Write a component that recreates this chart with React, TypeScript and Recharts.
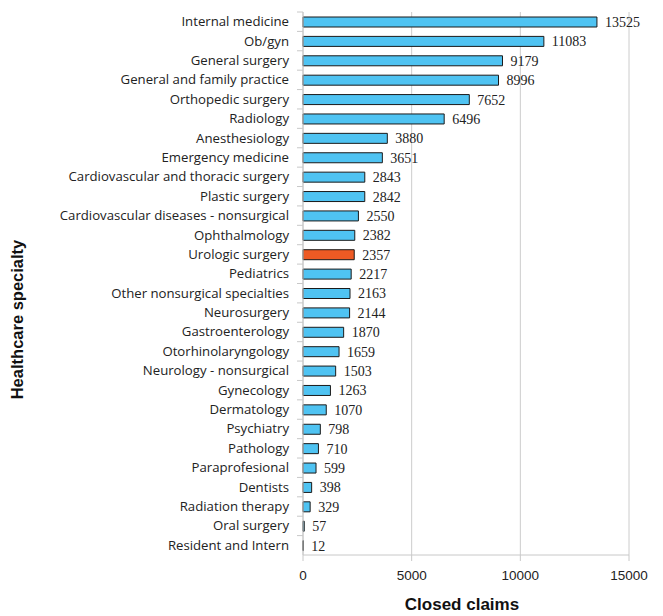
import { Bar, BarChart, CartesianGrid, Cell, LabelList, XAxis, YAxis } from "recharts";

const specialties = [
  "Internal medicine",
  "Ob/gyn",
  "General surgery",
  "General and family practice",
  "Orthopedic surgery",
  "Radiology",
  "Anesthesiology",
  "Emergency medicine",
  "Cardiovascular and thoracic surgery",
  "Plastic surgery",
  "Cardiovascular diseases - nonsurgical",
  "Ophthalmology",
  "Urologic surgery",
  "Pediatrics",
  "Other nonsurgical specialties",
  "Neurosurgery",
  "Gastroenterology",
  "Otorhinolaryngology",
  "Neurology - nonsurgical",
  "Gynecology",
  "Dermatology",
  "Psychiatry",
  "Pathology",
  "Paraprofesional",
  "Dentists",
  "Radiation therapy",
  "Oral surgery",
  "Resident and Intern",
];

const claims = [
  13525, 11083, 9179, 8996, 7652, 6496, 3880, 3651, 2843, 2842, 2550, 2382, 2357, 2217, 2163, 2144, 1870, 1659,
  1503, 1263, 1070, 798, 710, 599, 398, 329, 57, 12,
];

const xTicks = [0, 5000, 10000, 15000];
const highlighted = "Urologic surgery";

const rows = specialties.map((name, i) => ({ name, claims: claims[i] }));

const BAND = 543 / specialties.length;

function SpecialtyTick(props: any) {
  const { x, y, payload } = props;
  return (
    <g>
      <line x1={x + 2} x2={x + 8} y1={y - BAND / 2} y2={y - BAND / 2} stroke="#c8c8c8" />
      <text
        x={x - 6}
        y={y}
        dy={4.5}
        textAnchor="end"
        fontFamily="'Open Sans', sans-serif"
        fontSize={13.2}
        fill="#222"
      >
        {payload.value}
      </text>
    </g>
  );
}

export default function App() {
  return (
    <div style={{ margin: "-8px 0 0 -8px", width: 663, height: 616, background: "#fff", position: "relative" }}>
      <BarChart
        width={663}
        height={616}
        data={rows}
        layout="vertical"
        margin={{ top: 12, right: 34, bottom: 0, left: 0 }}
        barCategoryGap={0}
      >
        <CartesianGrid horizontal={false} stroke="#cccccc" />
        <XAxis
          type="number"
          domain={[0, 15000]}
          ticks={xTicks}
          axisLine={{ stroke: "#c8c8c8" }}
          tickLine={{ stroke: "#c8c8c8" }}
          tickSize={6}
          height={61}
          tick={{ fontFamily: "'Liberation Sans', Arial, sans-serif", fontSize: 13.5, fill: "#222", dy: 7 }}
          label={{
            value: "Closed claims",
            position: "insideBottom",
            offset: 6,
            dx: -4,
            style: { fontFamily: "'Liberation Sans', Arial, sans-serif", fontSize: 17, fontWeight: "bold", fill: "#111" },
          }}
        />
        <YAxis
          type="category"
          dataKey="name"
          width={303}
          axisLine={{ stroke: "#c8c8c8" }}
          tickLine={false}
          interval={0}
          tick={<SpecialtyTick />}
          label={{
            value: "Healthcare specialty",
            angle: -90,
            position: "insideLeft",
            offset: 17,
            dy: 36,
            style: {
              fontFamily: "'Liberation Sans', Arial, sans-serif",
              fontSize: 16.5,
              fontWeight: "bold",
              fill: "#111",
              textAnchor: "middle",
            },
          }}
        />
        <Bar dataKey="claims" barSize={10} stroke="#1a1a1a" strokeWidth={1} isAnimationActive={false}>
          {rows.map((r) => (
            <Cell key={r.name} fill={r.name === highlighted ? "#ee5a24" : "#4fc3f2"} />
          ))}
          <LabelList
            dataKey="claims"
            position="right"
            offset={8}
            style={{ fontFamily: "'Liberation Serif', 'DejaVu Serif', serif", fontSize: 14, fill: "#222" }}
          />
        </Bar>
      </BarChart>
    </div>
  );
}
